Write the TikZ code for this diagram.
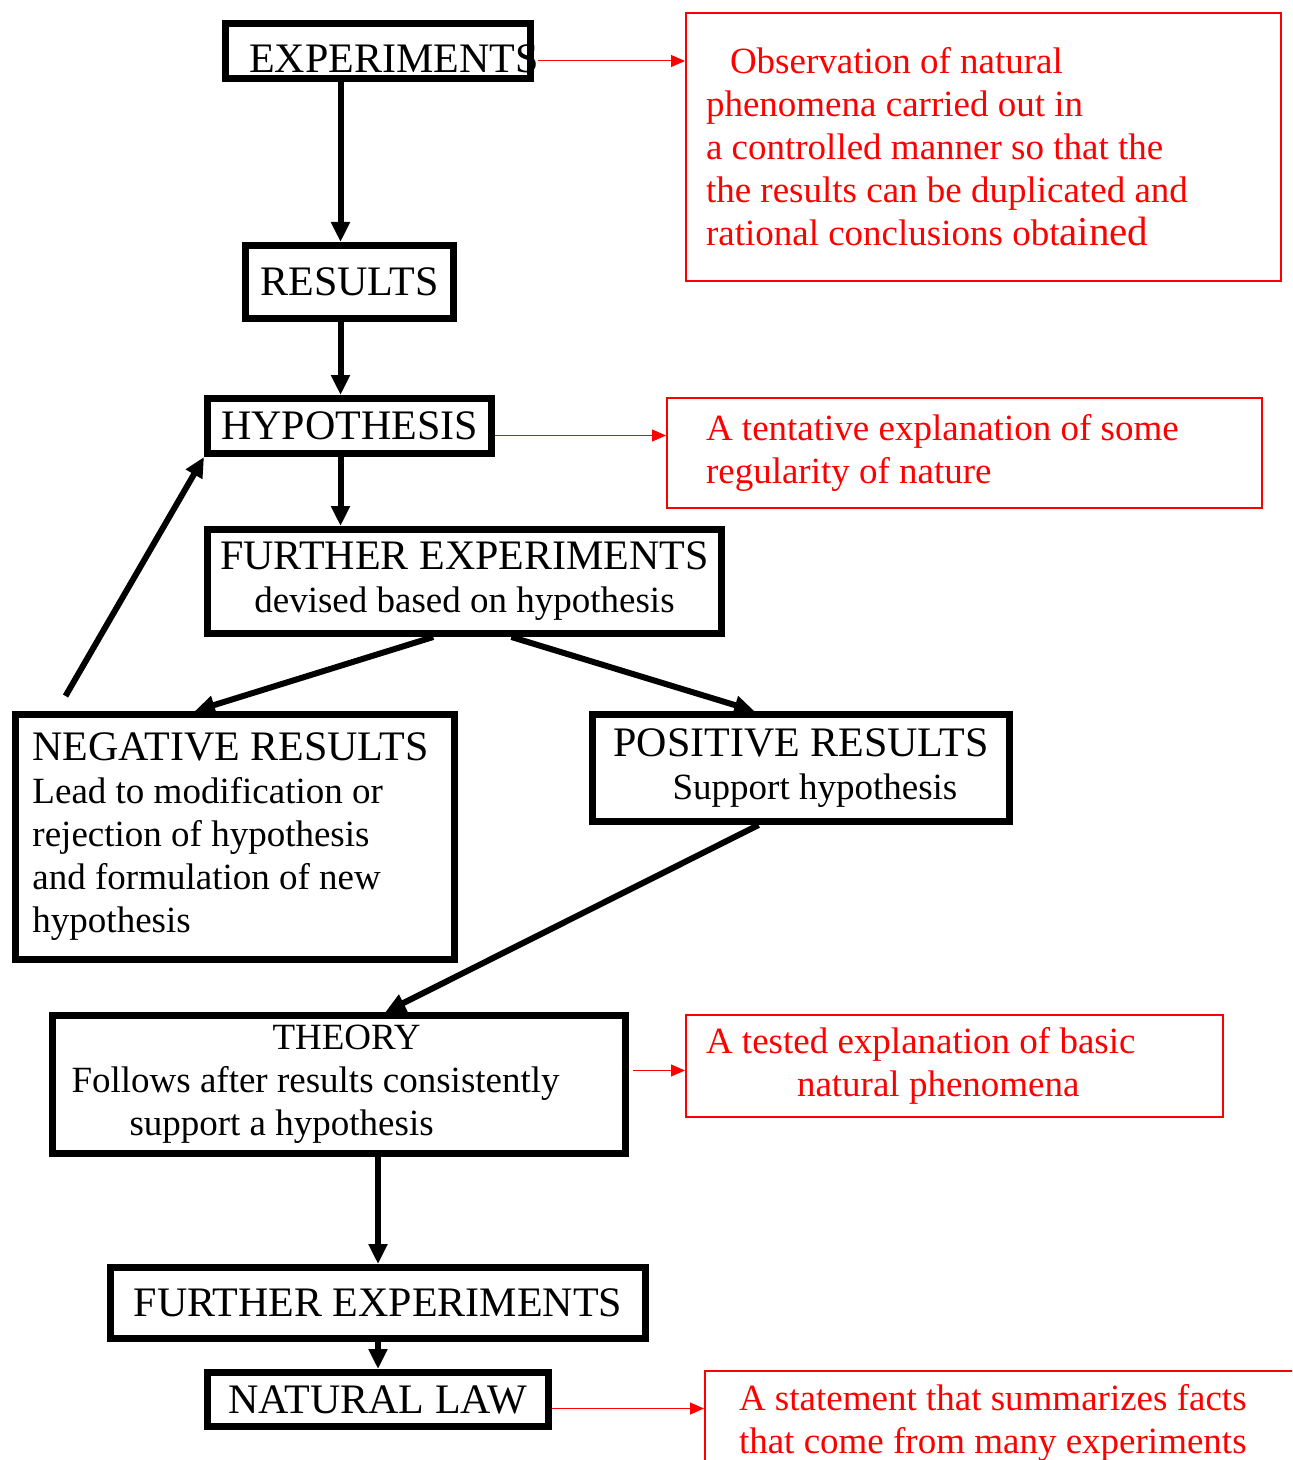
\documentclass[tikz,border=0pt]{standalone}
\usepackage{fontspec}
\setmainfont{Liberation Serif}
\usetikzlibrary{arrows.meta,positioning,calc}
\newcommand{\titlesize}{\fontsize{21}{25}\selectfont}
\newcommand{\notesize}{\fontsize{18.5}{21.5}\selectfont}
\newcommand{\tightspaces}{\spaceskip=0pt\relax\xspaceskip=0pt\relax}

\tikzset{
  stage/.style={draw=black, line width=3.5pt, rectangle, inner sep=0pt, font=\titlesize, anchor=north west,
                execute at begin node=\tightspaces},
  flow/.style={line width=3pt, -{Triangle[length=10pt,width=9pt]}},
  remark/.style={draw=red, line width=1pt, rectangle, inner ysep=0pt, text=red, font=\notesize, align=left, anchor=north west,
                 execute at begin node=\tightspaces},
  note/.style={red, line width=0.5pt, -{Triangle[length=7pt,width=6pt]}},
}

\begin{document}
\begin{tikzpicture}[x=0.5pt,y=-0.5pt]
    \useasboundingbox (0,0) rectangle (1292,1460);
    \clip (0,0) rectangle (1292,1460);

    % Main chain of stages
    \node[stage, minimum width=152.5pt, minimum height=27.5pt, text height=22pt] (exp) at (222,20)
        {\kern8pt EXPERIMENTS\kern-8pt};
    \node[stage, minimum width=104pt, minimum height=36.5pt] (res) at (242,242) {RESULTS};
    \node[stage, minimum width=142pt, minimum height=27.5pt] (hyp) at (204,395) {HYPOTHESIS};
    \node[stage, minimum width=257pt, minimum height=52pt, font=\notesize, align=center] (fexp) at (204,526)
        {{\titlesize FURTHER EXPERIMENTS}\\ devised based on hypothesis};

    % Outcomes
    \node[stage, minimum width=219.5pt, minimum height=122.5pt, font=\notesize, align=left,
          text width=202.5pt, inner xsep=8.5pt] (neg) at (12,711)
        {{\titlesize NEGATIVE RESULTS}\\ Lead to modification or\\ rejection of hypothesis\\ and formulation of new\\ hypothesis};
    \node[stage, minimum width=208.5pt, minimum height=53.5pt, font=\notesize, align=center] (pos) at (589,711)
        {{\titlesize POSITIVE RESULTS}\\ \hspace*{14pt}Support hypothesis};

    % Theory and law
    \node[stage, minimum width=286.5pt, minimum height=69pt, font=\notesize, align=left,
          text width=267.5pt, inner xsep=9.5pt] (theory) at (49,1012)
        {\hspace*{100.5pt}THEORY\\ Follows after results consistently\\ \hspace*{29pt}support a hypothesis};
    \node[stage, minimum width=267.5pt, minimum height=35.5pt] (fexp2) at (107,1264) {FURTHER EXPERIMENTS};
    \node[stage, minimum width=170.5pt, minimum height=27pt] (law) at (204,1369) {NATURAL LAW};

    % Definitions in red
    \node[remark, minimum width=297.5pt, minimum height=134pt, text width=277.5pt, inner xsep=10pt] (defexp) at (685,12)
        {\hspace*{12pt}Observation of natural\\ phenomena carried out in\\ a controlled manner so that the\\ the results can be duplicated and\\ rational conclusions obt{\fontsize{20.5}{21.5}\selectfont ained}};
    \node[remark, minimum width=297.5pt, minimum height=55pt, text width=258.5pt, inner xsep=19.5pt] (defhyp) at (666,397)
        {A tentative explanation of some\\ regularity of nature};
    \node[remark, minimum width=268.5pt, minimum height=51pt, text width=248.5pt, inner xsep=10pt] (deftheory) at (685,1014)
        {A tested explanation of basic\\ \hspace*{45.5pt}natural phenomena};
    \node[remark, minimum width=300pt, minimum height=52pt, text width=266pt, inner xsep=17pt] (deflaw) at (704,1370)
        {A statement that summarizes facts\\ that come from many experiments};

    % Flow arrows
    \draw[flow] ($(res.north |- exp.south)+(-9,0)$) -- ($(res.north)+(-9,0)$);
    \draw[flow] ($(res.south)+(-9,0)$) -- ($(hyp.north)+(-9,0)$);
    \draw[flow] ($(hyp.south)+(-9,0)$) -- ($(hyp.south |- fexp.north)+(-9,0)$);
    \draw[flow] ($(fexp.south west)!0.44!(fexp.south east)$) -- ($(neg.north west)!0.41!(neg.north east)$);
    \draw[flow] ($(fexp.south west)!0.59!(fexp.south east)$) -- ($(pos.north west)!0.39!(pos.north east)$);
    \draw[flow] ($(neg.north west)!0.12!(neg.north east)+(0,-15)$) -- (hyp.south west);
    \draw[flow] ($(pos.south west)!0.40!(pos.south east)$) -- ($(theory.north west)!0.58!(theory.north east)$);
    \draw[flow] (fexp2.north |- theory.south) -- (fexp2.north);
    \draw[flow] (fexp2) -- (law);

    % Red pointers
    \draw[note] ($(exp.east)+(4,10)$) coordinate (e1) -- (e1 -| defexp.west);
    \draw[note] ($(hyp.east)+(0,9.5)$) coordinate (e2) -- (e2 -| defhyp.west);
    \draw[note] ($(theory.east)+(4,-14)$) coordinate (e3) -- (e3 -| deftheory.west);
    \draw[note] ($(law.east)+(0,9)$) coordinate (e4) -- (e4 -| deflaw.west);
\end{tikzpicture}
\end{document}
